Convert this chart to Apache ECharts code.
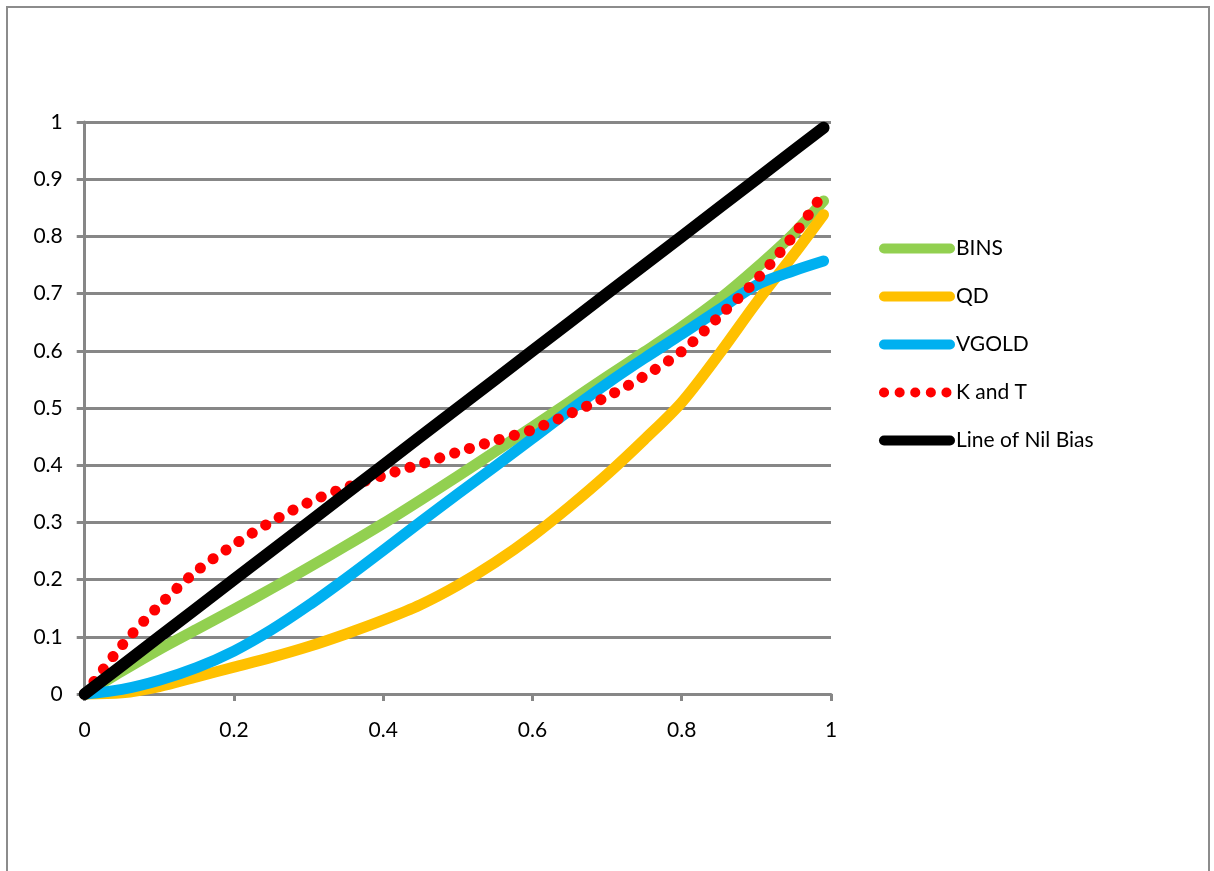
<!DOCTYPE html>
<html>
<head>
<meta charset="utf-8">
<script src="https://cdn.jsdelivr.net/npm/echarts@6/dist/echarts.min.js"></script>
<style>
  html, body { margin: 0; padding: 0; background: #ffffff; }
  #chart { width: 1214px; height: 871px; }
</style>
</head>
<body>
<div id="chart"></div>
<script>
// Probability (x) against calibrated value (y) for each model
const xs      = [0, 0.05, 0.1, 0.15, 0.2, 0.25, 0.3, 0.35, 0.4, 0.45, 0.5, 0.55, 0.6, 0.65, 0.7, 0.75, 0.8, 0.85, 0.9, 0.95, 0.99];
const bins    = [0, 0.040, 0.078, 0.113, 0.148, 0.184, 0.221, 0.259, 0.298, 0.339, 0.381, 0.424, 0.467, 0.511, 0.555, 0.598, 0.642, 0.690, 0.745, 0.805, 0.862];
const qd      = [0, 0.002, 0.013, 0.030, 0.047, 0.064, 0.083, 0.105, 0.129, 0.156, 0.190, 0.230, 0.276, 0.328, 0.384, 0.445, 0.510, 0.594, 0.684, 0.768, 0.838];
const vgold   = [0, 0.008, 0.024, 0.046, 0.075, 0.112, 0.155, 0.202, 0.251, 0.301, 0.350, 0.398, 0.447, 0.496, 0.543, 0.587, 0.629, 0.672, 0.715, 0.740, 0.757];
const kAndT   = [0, 0.085, 0.155, 0.215, 0.261, 0.301, 0.335, 0.361, 0.382, 0.402, 0.423, 0.443, 0.462, 0.490, 0.520, 0.556, 0.599, 0.660, 0.724, 0.802, 0.876];
const nilBias = [0, 0.05, 0.1, 0.15, 0.2, 0.25, 0.3, 0.35, 0.4, 0.45, 0.5, 0.55, 0.6, 0.65, 0.7, 0.75, 0.8, 0.85, 0.9, 0.95, 0.99];

const seriesNames = ['BINS', 'QD', 'VGOLD', 'K and T', 'Line of Nil Bias'];
const xTickLabels = ['0', '0.2', '0.4', '0.6', '0.8', '1'];
const yTickLabels = ['0', '0.1', '0.2', '0.3', '0.4', '0.5', '0.6', '0.7', '0.8', '0.9', '1'];

const FONT = 'Lato, "Open Sans", sans-serif';
const GREY = '#878787';

const pairs = (ys) => xs.map((x, i) => [x, ys[i]]);

const styles = [
  { color: '#92d050', width: 11, type: 'solid' },
  { color: '#ffc000', width: 11, type: 'solid' },
  { color: '#00b0f0', width: 11, type: 'solid' },
  { color: '#ff0000', width: 11, type: [0.1, 15.5] },
  { color: '#000000', width: 12, type: 'solid' }
];
const values = [bins, qd, vgold, kAndT, nilBias];

const chart = echarts.init(document.getElementById('chart'), null, { renderer: 'canvas' });

chart.setOption({
  backgroundColor: '#ffffff',
  animation: false,
  textStyle: { fontFamily: FONT },
  graphic: [{
    type: 'rect',
    shape: { x: 7, y: 7, width: 1202, height: 900 },
    style: { fill: 'none', stroke: '#8c8c8c', lineWidth: 2 },
    silent: true
  }],
  grid: { left: 84.7, right: 383, top: 122, bottom: 177 },
  legend: {
    orient: 'vertical',
    left: 874,
    top: 231,
    itemWidth: 66,
    itemHeight: 10,
    itemGap: 23,
    textStyle: { fontFamily: FONT, fontSize: 21, color: '#000000', lineHeight: 25, padding: [0, 0, 0, 1] },
    data: seriesNames.map((name, i) => ({
      name,
      lineStyle: { color: styles[i].color, width: 10, type: styles[i].type, cap: 'round' },
      itemStyle: { color: styles[i].color, opacity: 0 }
    }))
  },
  xAxis: {
    type: 'value',
    min: 0, max: 1, interval: 0.2,
    axisLine: { show: true, lineStyle: { color: GREY, width: 3 } },
    axisTick: { show: true, length: 7, lineStyle: { color: GREY, width: 3 } },
    splitLine: { show: false },
    axisLabel: {
      margin: 26, fontFamily: FONT, fontSize: 21, color: '#000000',
      formatter: (v) => xTickLabels[Math.round(v * 5)]
    }
  },
  yAxis: {
    type: 'value',
    min: 0, max: 1, interval: 0.1,
    axisLine: { show: true, lineStyle: { color: GREY, width: 3 } },
    axisTick: { show: true, length: 8, lineStyle: { color: GREY, width: 3 } },
    splitLine: { show: true, lineStyle: { color: GREY, width: 3 } },
    axisLabel: {
      margin: 22, fontFamily: FONT, fontSize: 21, color: '#000000',
      formatter: (v) => yTickLabels[Math.round(v * 10)]
    }
  },
  series: seriesNames.map((name, i) => ({
    name,
    type: 'line',
    data: pairs(values[i]),
    smooth: i === 4 ? false : 0.3,
    symbol: 'none',
    clip: false,
    color: styles[i].color,
    lineStyle: { color: styles[i].color, width: styles[i].width, type: styles[i].type, cap: 'round', join: 'round' },
    z: 2 + i
  }))
});
</script>
</body>
</html>
